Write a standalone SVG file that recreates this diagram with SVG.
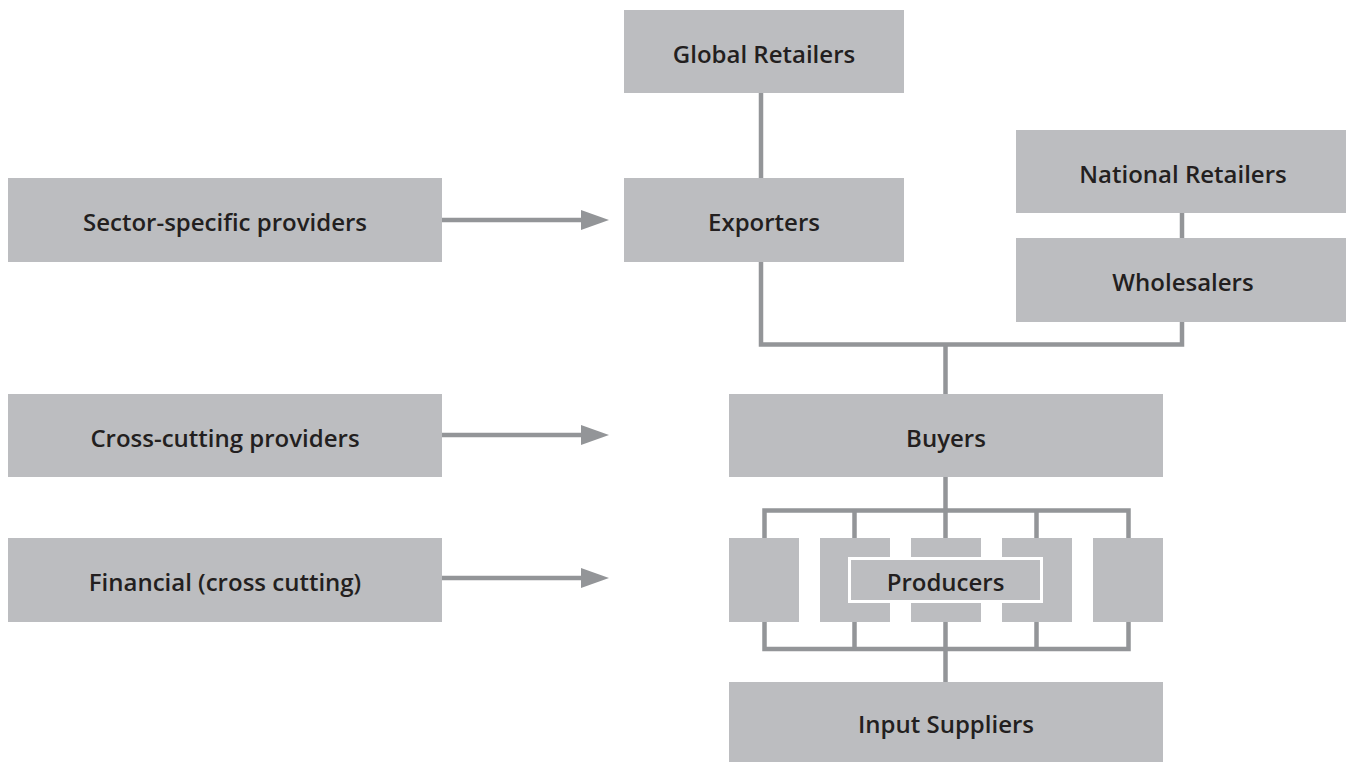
<svg xmlns="http://www.w3.org/2000/svg" width="1354" height="763" viewBox="0 0 1354 763">
  <style>
    .box { fill: #bcbdc0; }
    .inner { fill: #bcbdc0; stroke: #ffffff; stroke-width: 3; }
    .lbl { font-family: "Open Sans", "Liberation Sans", sans-serif; font-weight: 600; font-size: 24px; fill: #231f20; text-anchor: middle; }
    .wire { fill: none; stroke: #939598; stroke-width: 4.5; }
  </style>
  <defs>
    <marker id="head" markerUnits="userSpaceOnUse" markerWidth="28" markerHeight="20" refX="0" refY="10" orient="auto">
      <path d="M0,0 L28,10 L0,20 z" fill="#939598"/>
    </marker>
  </defs>
  <rect width="1354" height="763" fill="#ffffff"/>

  <!-- connectors -->
  <g id="connectors" class="wire">
    <line x1="761" y1="93" x2="761" y2="178"/>
    <line x1="1182" y1="213" x2="1182" y2="238"/>
    <path d="M761,262 V344.5 H1182 V322"/>
    <line x1="945.5" y1="344.5" x2="945.5" y2="394"/>
    <line x1="945.5" y1="477" x2="945.5" y2="538"/>
    <path d="M764.5,538 V510.5 H1128.5 V538"/>
    <line x1="854.5" y1="510.5" x2="854.5" y2="538"/>
    <line x1="1036.5" y1="510.5" x2="1036.5" y2="538"/>
    <path d="M764.5,622 V649 H1128.5 V622"/>
    <line x1="854.5" y1="622" x2="854.5" y2="649"/>
    <line x1="1036.5" y1="622" x2="1036.5" y2="649"/>
    <line x1="945.5" y1="622" x2="945.5" y2="682"/>
    <line x1="442" y1="220" x2="581" y2="220" marker-end="url(#head)"/>
    <line x1="442" y1="435" x2="581" y2="435" marker-end="url(#head)"/>
    <line x1="442" y1="578" x2="581" y2="578" marker-end="url(#head)"/>
  </g>

  <g id="global-retailers">
    <rect class="box" x="624" y="10" width="280" height="83"/>
    <text class="lbl" x="764" y="62.5">Global Retailers</text>
  </g>
  <g id="exporters">
    <rect class="box" x="624" y="178" width="280" height="84"/>
    <text class="lbl" x="764" y="231">Exporters</text>
  </g>
  <g id="national-retailers">
    <rect class="box" x="1016" y="130" width="330" height="83"/>
    <text class="lbl" x="1183" y="182.5">National Retailers</text>
  </g>
  <g id="wholesalers">
    <rect class="box" x="1016" y="238" width="330" height="84"/>
    <text class="lbl" x="1183" y="291">Wholesalers</text>
  </g>
  <g id="sector-specific">
    <rect class="box" x="8" y="178" width="434" height="84"/>
    <text class="lbl" x="225" y="231">Sector-specific providers</text>
  </g>
  <g id="buyers">
    <rect class="box" x="729" y="394" width="434" height="83"/>
    <text class="lbl" x="946" y="446.5">Buyers</text>
  </g>
  <g id="cross-cutting">
    <rect class="box" x="8" y="394" width="434" height="83"/>
    <text class="lbl" x="225" y="446.5">Cross-cutting providers</text>
  </g>
  <g id="financial">
    <rect class="box" x="8" y="538" width="434" height="84"/>
    <text class="lbl" x="225" y="591">Financial (cross cutting)</text>
  </g>
  <g id="producers">
    <rect class="box" x="729" y="538" width="70" height="84"/>
    <rect class="box" x="820" y="538" width="70" height="84"/>
    <rect class="box" x="911" y="538" width="70" height="84"/>
    <rect class="box" x="1002" y="538" width="70" height="84"/>
    <rect class="box" x="1093" y="538" width="70" height="84"/>
    <rect class="inner" x="849.5" y="558.5" width="192" height="43"/>
    <text class="lbl" x="945.5" y="590.5">Producers</text>
  </g>
  <g id="input-suppliers">
    <rect class="box" x="729" y="682" width="434" height="80"/>
    <text class="lbl" x="946" y="733">Input Suppliers</text>
  </g>
</svg>
